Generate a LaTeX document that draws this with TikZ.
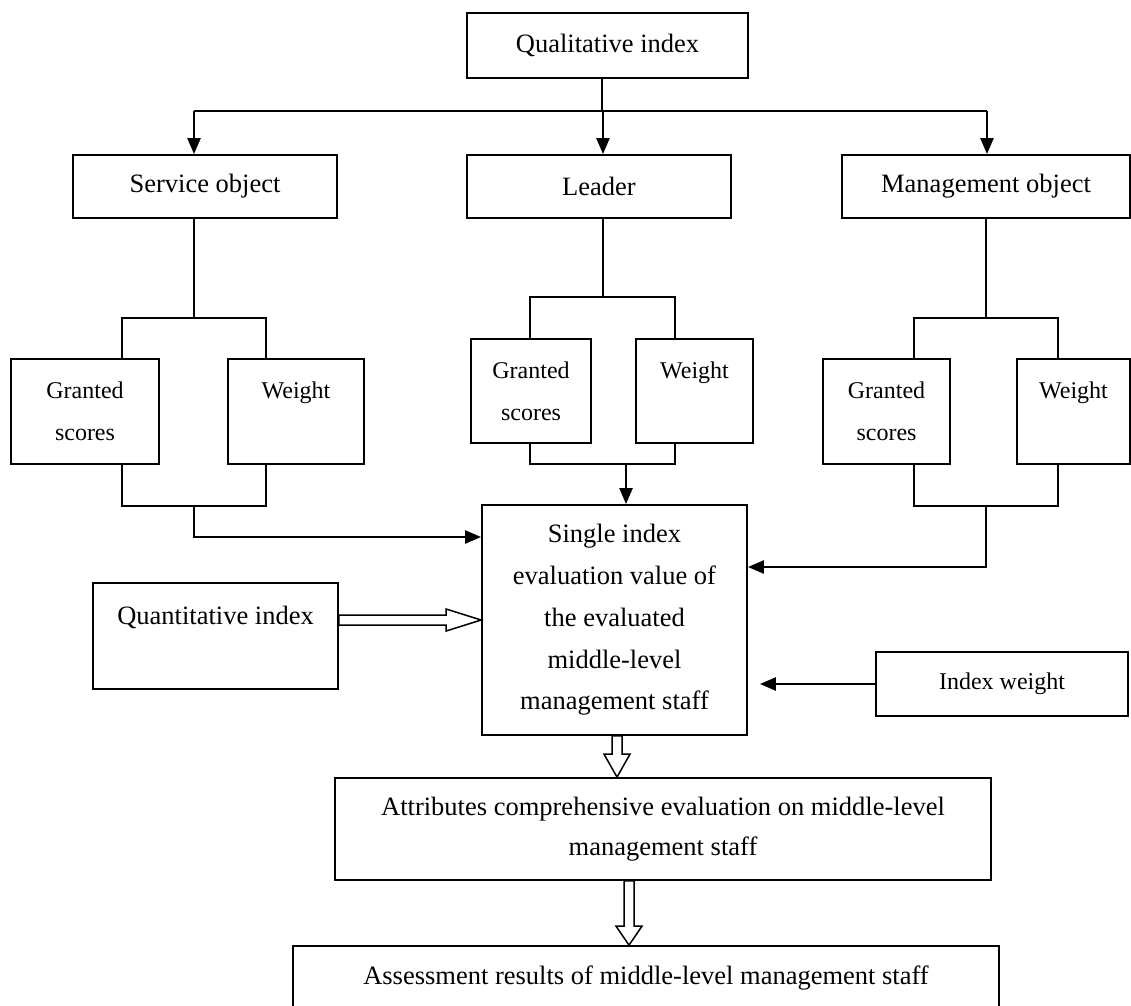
\documentclass[tikz,border=0pt]{standalone}
\usepackage{fontspec}
\setmainfont{Liberation Serif}
\usetikzlibrary{arrows.meta, calc}

\begin{document}
\begin{tikzpicture}[x=1pt, y=-1pt,
    box/.style={draw, line width=1.8pt, inner sep=0pt, align=center, font=\fontsize{26.5}{41.7}\selectfont},
    smallbox/.style={box, font=\fontsize{24}{42}\selectfont},
    link/.style={line width=1.5pt},
    feed/.style={line width=2.4pt, -{Triangle[length=16pt, width=13pt]}},
    hollow/.style={line width=1.5pt, fill=white, line join=miter}]
    \useasboundingbox (0,0) rectangle (1131,1005);

    % top level
    \node[box, minimum width=281pt, minimum height=65pt] (qual) at (607.5,45.5) {Qualitative index};
    \node[box, minimum width=264pt, minimum height=63pt] (service) at (205,186.5) {Service object};
    \node[box, minimum width=264pt, minimum height=63pt] (leader) at (599,186.5) {Leader};
    \node[box, minimum width=288pt, minimum height=63pt] (mgmt) at (986,186.5) {Management object};

    % scores and weights
    \node[smallbox, minimum width=148pt, minimum height=105pt] (gsA) at (85,411.5) {Granted\\scores};
    \node[smallbox, minimum width=136pt, minimum height=105pt] (wtA) at (296,411.5) {Weight\\\phantom{scores}};
    \node[smallbox, minimum width=120pt, minimum height=104pt] (gsB) at (531,391) {Granted\\scores};
    \node[smallbox, minimum width=117pt, minimum height=104pt] (wtB) at (694.5,391) {Weight\\\phantom{scores}};
    \node[smallbox, minimum width=127pt, minimum height=105pt] (gsC) at (886.5,411.5) {Granted\\scores};
    \node[smallbox, minimum width=113pt, minimum height=105pt] (wtC) at (1073.5,411.5) {Weight\\\phantom{scores}};

    % evaluation
    \node[box, minimum width=265pt, minimum height=230pt] (single) at (614.5,620) {Single index\\evaluation value of\\the evaluated\\middle-level\\management staff};
    \node[box, minimum width=245pt, minimum height=106pt] (quant) at (215.5,636) {Quantitative index\\\phantom{x}};
    \node[smallbox, minimum width=252pt, minimum height=64pt] (iw) at (1002,684) {Index weight};
    \node[box, minimum width=656pt, minimum height=102pt, font=\fontsize{26.5}{40}\selectfont] (attr) at (663,829) {Attributes comprehensive evaluation on middle-level\\management staff};
    \node[box, minimum width=706pt, minimum height=64pt] (assess) at (646,978) {Assessment results of middle-level management staff};

    % qualitative index splits
    \coordinate (split) at (602,111);
    \coordinate (colA) at (194,111);
    \coordinate (colB) at (603,111);
    \coordinate (colC) at (987,111);
    \draw[link] (split |- qual.south) -- (split);
    \draw[line width=2.4pt] (colA) -- (colC);
    \foreach \c/\n in {colA/service, colB/leader, colC/mgmt}
        \draw[feed] (\c) -- (\c |- \n.north);

    \foreach \p/\n/\l/\m/\r/\t/\b in {service/A/122/194/266/318/506, leader/B/530/603/675/297/464, mgmt/C/914/986/1058/318/506} {
        \coordinate (top\n) at (\m,\t);
        \coordinate (bot\n) at (\m,\b);
        \draw[link] (top\n |- \p.south) -- (top\n);
        \draw[link] (\l,\t |- gs\n.north) -- (\l,\t) -- (\r,\t) -- (\r,\t |- wt\n.north);
        \draw[link] (\l,\b |- gs\n.south) -- (\l,\b) -- (\r,\b) -- (\r,\b |- wt\n.south);
    }
    \draw[feed] (botA) |- ([yshift=83pt]single.west);
    \coordinate (dropB) at (626,464);
    \draw[feed] (dropB) -- (dropB |- single.north);
    \draw[feed] (botC) |- ([yshift=53pt]single.east);
    \draw[feed, shorten >=12pt] (iw.west) -- (iw.west -| single.east);

    % hollow arrows
    \draw[hollow] let \p1=([yshift=16pt]quant.east), \p2=(single.west) in
        (\x1,\y1+5pt) -- (\x2-35pt,\y1+5pt) -- (\x2-35pt,\y1+11pt) -- (\x2,\y1)
        -- (\x2-35pt,\y1-11pt) -- (\x2-35pt,\y1-5pt) -- (\x1,\y1-5pt) -- cycle;
    \draw[hollow] let \p1=([xshift=2.5pt]single.south), \p2=(attr.north) in
        (\x1-5pt,\y1) -- (\x1-5pt,\y2+23pt) -- (\x1-13pt,\y2+23pt) -- (\x1,\y2)
        -- (\x1+13pt,\y2+23pt) -- (\x1+5pt,\y2+23pt) -- (\x1+5pt,\y1) -- cycle;
    \draw[hollow] let \p1=([xshift=-34pt]attr.south), \p2=(assess.north) in
        (\x1-5pt,\y1) -- (\x1-5pt,\y2+19pt) -- (\x1-13pt,\y2+19pt) -- (\x1,\y2)
        -- (\x1+13pt,\y2+19pt) -- (\x1+5pt,\y2+19pt) -- (\x1+5pt,\y1) -- cycle;
\end{tikzpicture}
\end{document}
